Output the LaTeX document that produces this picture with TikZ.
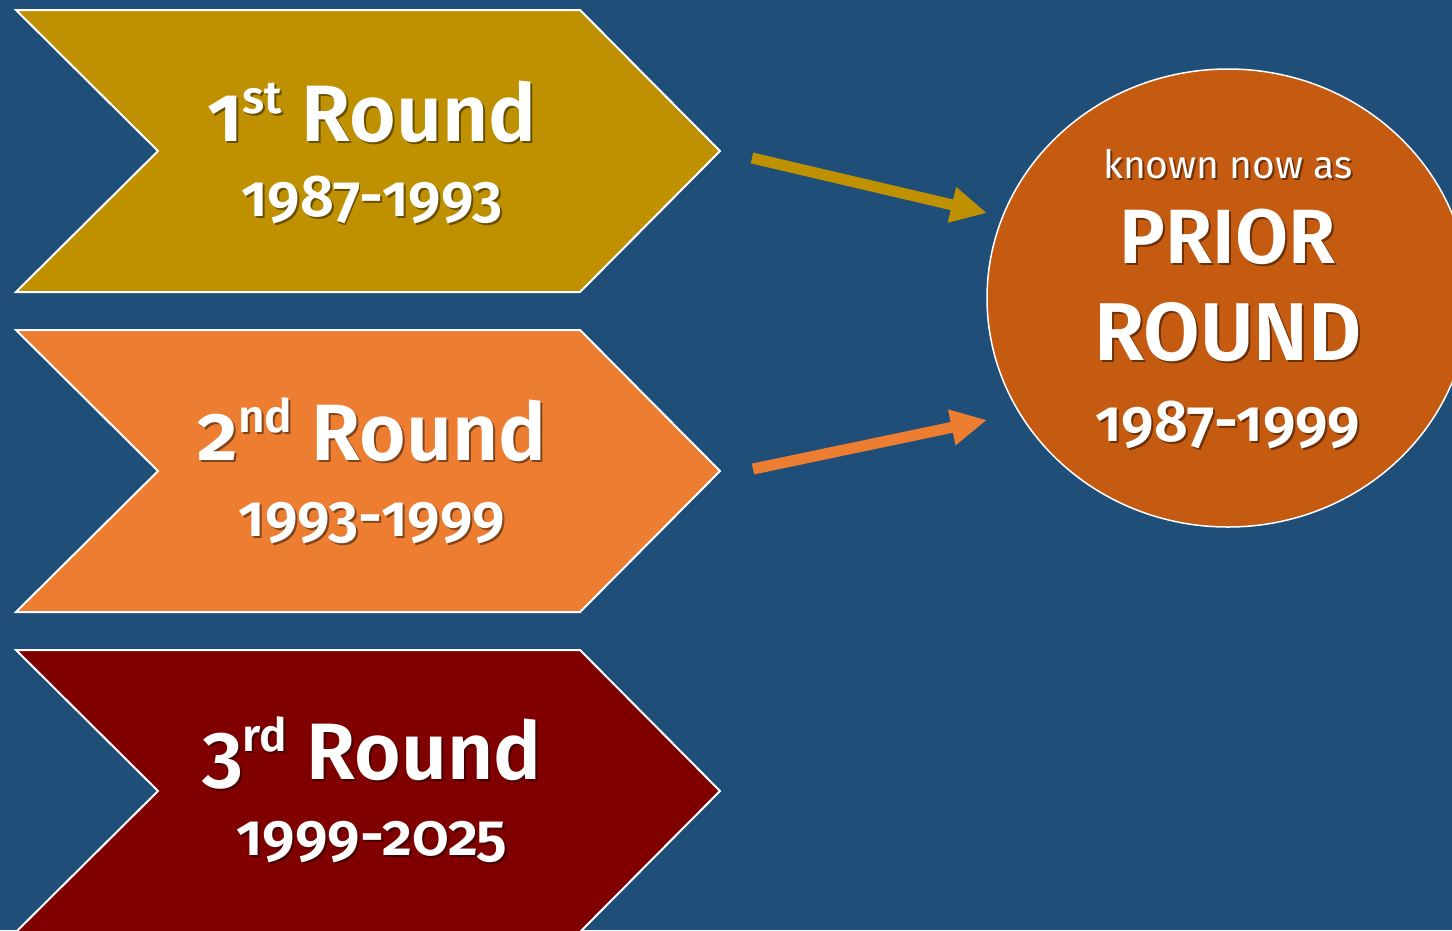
\documentclass[tikz,border=0pt]{standalone}
\usepackage{fontspec}
\setmainfont{Fira Sans}[Numbers=OldStyle, BoldFont={Fira Sans SemiBold}]
\usetikzlibrary{arrows.meta,shapes.geometric}
\definecolor{bg}{RGB}{31,78,121}
\definecolor{goldc}{RGB}{191,144,0}
\definecolor{orangec}{RGB}{237,125,49}
\definecolor{maroonc}{RGB}{128,0,0}
\definecolor{circc}{RGB}{197,90,17}
\colorlet{goldsh}{goldc!55!black}
\colorlet{orangesh}{orangec!55!black}
\colorlet{maroonsh}{maroonc!55!black}
\colorlet{circsh}{circc!55!black}
\newcommand\shd[2]{\makebox[0pt][l]{\kern2pt\raisebox{-2pt}{\color{#1}#2}}#2}
\newcommand\sups[1]{\raisebox{28pt}{\fontsize{46}{46}\selectfont #1}}
\tikzset{
  chev/.style={draw=white, line width=2pt, line join=miter},
  rt/.style={text=white, inner sep=0pt, anchor=base, font=\fontsize{80}{80}\selectfont\bfseries},
  yr/.style={text=white, inner sep=0pt, anchor=base, font=\fontsize{59}{59}\selectfont\bfseries},
  arr/.style={line width=11pt, -{Triangle[length=36pt,width=34pt]}},
}
\begin{document}
\begin{tikzpicture}[x=1pt,y=-1pt]
\useasboundingbox (0,0) rectangle (1452,930);
\clip (0,0) rectangle (1452,930);
\fill[bg] (0,0) rectangle (1452,930);
% chevrons
\path[chev, fill=goldc] (16,10) -- (580,10) -- (720,151) -- (580,292) -- (16,292) -- (158,151) -- cycle;
\path[chev, fill=orangec] (16,330) -- (580,330) -- (720,471) -- (580,612) -- (16,612) -- (158,471) -- cycle;
\path[chev, fill=maroonc] (16,650) -- (580,650) -- (720,791) -- (580,932) -- (16,932) -- (158,791) -- cycle;
% chevron texts
\node[rt] (r1) at (372,141) {\shd{goldsh}{1\sups{st} Round}};
\node[yr] (y1) at (372,216) {\shd{goldsh}{1987-1993}};
\node[rt] (r2) at (372,460) {\shd{orangesh}{2\sups{nd} Round}};
\node[yr] (y2) at (372,536) {\shd{orangesh}{1993-1999}};
\node[rt] (r3) at (372,779) {\shd{maroonsh}{3\sups{rd} Round}};
\node[yr] (y3) at (372,855) {\shd{maroonsh}{1999-2025}};
% circle
\node[ellipse, draw=white, line width=1.5pt, fill=circc, minimum width=482pt, minimum height=458pt, inner sep=0pt] (prior) at (1228,298) {};
\node[text=white, inner sep=0pt, anchor=base, font=\fontsize{39}{39}\selectfont] (k) at (1228,178) {\shd{circsh}{known now as}};
\node[rt, font=\fontsize{77}{77}\selectfont\bfseries] (p) at (1228,263) {\shd{circsh}{PRIOR}};
\node[rt, font=\fontsize{82}{82}\selectfont\bfseries] (rd) at (1228,360) {\shd{circsh}{ROUND}};
\node[yr] (y4) at (1228,441) {\shd{circsh}{1987-1999}};
% arrows
\coordinate (s1) at (752,158);
\coordinate (e1) at (987,213);
\coordinate (s2) at (753,469);
\coordinate (e2) at (987,420);
\draw[arr, goldc] (s1) -- (e1);
\draw[arr, orangec] (s2) -- (e2);
\end{tikzpicture}
\end{document}
